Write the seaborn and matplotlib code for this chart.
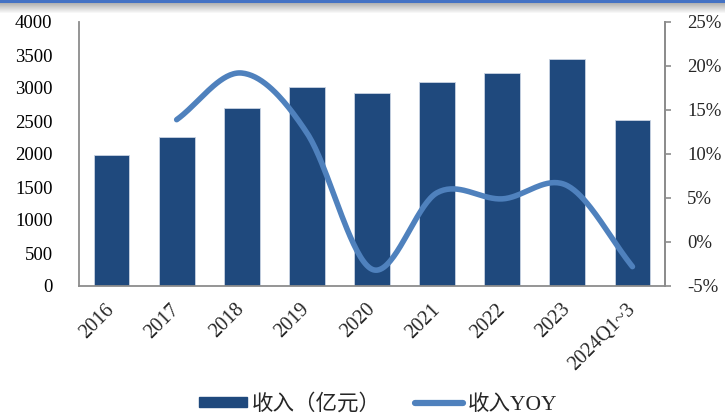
import numpy as np
import pandas as pd
import matplotlib
matplotlib.use("Agg")
import matplotlib.pyplot as plt
from matplotlib.patches import Patch
from matplotlib.lines import Line2D
import seaborn as sns

categories = ["2016", "2017", "2018", "2019", "2020", "2021", "2022", "2023", "2024Q1~3"]
revenue = [1980, 2260, 2690, 3020, 2930, 3090, 3230, 3440, 2520]
yoy_cats = ["2017", "2018", "2019", "2020", "2021", "2022", "2023", "2024Q1~3"]
yoy = [13.9, 19.2, 12.4, -3.1, 5.6, 4.9, 6.4, -2.8]

left_ticks = [0, 500, 1000, 1500, 2000, 2500, 3000, 3500, 4000]
right_ticks = [-5, 0, 5, 10, 15, 20, 25]

bar_color = "#1F497D"
line_color = "#4F81BD"
spine_color = "#8C8C8C"

sns.set_theme(style="white")
plt.rcParams["font.family"] = ["Liberation Serif", "Noto Sans CJK SC"]

fig = plt.figure(figsize=(7.25, 4.16), dpi=100)
ax = fig.add_axes([79/725, 1-286/416, (665-79)/725, (286-22)/416])

df = pd.DataFrame({"cat": categories, "rev": revenue})
sns.barplot(data=df, x="cat", y="rev", color=bar_color, width=0.55, ax=ax,
            saturation=1, edgecolor="#c9d3e3", linewidth=0.6)
ax.set_xlim(-0.5, len(categories) - 0.5)
ax.set_ylim(0, 4000)
ax.set_yticks(left_ticks)
ax.set_yticklabels([str(t) for t in left_ticks])
ax.set_xlabel("")
ax.set_ylabel("")
ax.tick_params(axis="y", length=0, pad=19, labelsize=13.5, colors="black")
ax.tick_params(axis="x", length=0, pad=15, labelsize=14.5)
for lab in ax.get_xticklabels():
    lab.set_rotation(45)
    lab.set_ha("right")
    lab.set_va("center")
    lab.set_rotation_mode("anchor")
for s in ["top"]:
    ax.spines[s].set_visible(False)
for s in ["left", "bottom", "right"]:
    ax.spines[s].set_color(spine_color)
    ax.spines[s].set_linewidth(1.3)

ax2 = ax.twinx()
ax2.set_ylim(-5, 25)
ax2.set_yticks(right_ticks)
ax2.set_yticklabels([f"{t}%" for t in right_ticks])
ax2.tick_params(axis="y", length=4, width=1.2, color=spine_color, pad=12, labelsize=13.5)
for s in ["top", "left", "bottom"]:
    ax2.spines[s].set_visible(False)
ax2.spines["right"].set_color(spine_color)
ax2.spines["right"].set_linewidth(1.3)

# smoothed line (Catmull-Rom through data points, like Excel smoothing)
xs = np.array([categories.index(c) for c in yoy_cats], dtype=float)
ys = np.array(yoy, dtype=float)
px = np.concatenate([[2*xs[0]-xs[1]], xs, [2*xs[-1]-xs[-2]]])
py = np.concatenate([[2*ys[0]-ys[1]], ys, [2*ys[-1]-ys[-2]]])
cx, cy = [], []
t = np.linspace(0, 1, 40)
for i in range(1, len(px) - 2):
    p0x, p1x, p2x, p3x = px[i-1], px[i], px[i+1], px[i+2]
    p0y, p1y, p2y, p3y = py[i-1], py[i], py[i+1], py[i+2]
    b1x, b1y = p1x + (p2x - p0x) / 6, p1y + (p2y - p0y) / 6
    b2x, b2y = p2x - (p3x - p1x) / 6, p2y - (p3y - p1y) / 6
    bx = (1-t)**3*p1x + 3*(1-t)**2*t*b1x + 3*(1-t)*t**2*b2x + t**3*p2x
    by = (1-t)**3*p1y + 3*(1-t)**2*t*b1y + 3*(1-t)*t**2*b2y + t**3*p2y
    cx.extend(bx)
    cy.extend(by)
ax2.plot(cx, cy, color=line_color, linewidth=4, solid_capstyle="round")

# top band
axb = fig.add_axes([0, 1-13/416, 1, 13/416])
grad = np.ones((13, 1, 3))
blue = np.array([68, 114, 196]) / 255
for i in range(13):
    if i < 3:
        grad[i, 0] = blue
    else:
        f = (i - 3) / 10
        g = 0.70 + 0.30 * f
        grad[i, 0] = [g, g, g]
axb.imshow(grad, aspect="auto", extent=[0, 1, 0, 1])
axb.axis("off")

handles = [Patch(facecolor=bar_color, edgecolor=bar_color),
           Line2D([0], [0], color=line_color, linewidth=4.5, solid_capstyle="round")]
fig.legend(handles, ["收入（亿元）", "收入YOY"], loc="center", bbox_to_anchor=(0.522, 0.028),
           ncol=2, frameon=False, fontsize=15.5, handlelength=2.2, handleheight=0.35,
           handletextpad=0.25, columnspacing=1.6)

fig.savefig("out.png", dpi=100)
